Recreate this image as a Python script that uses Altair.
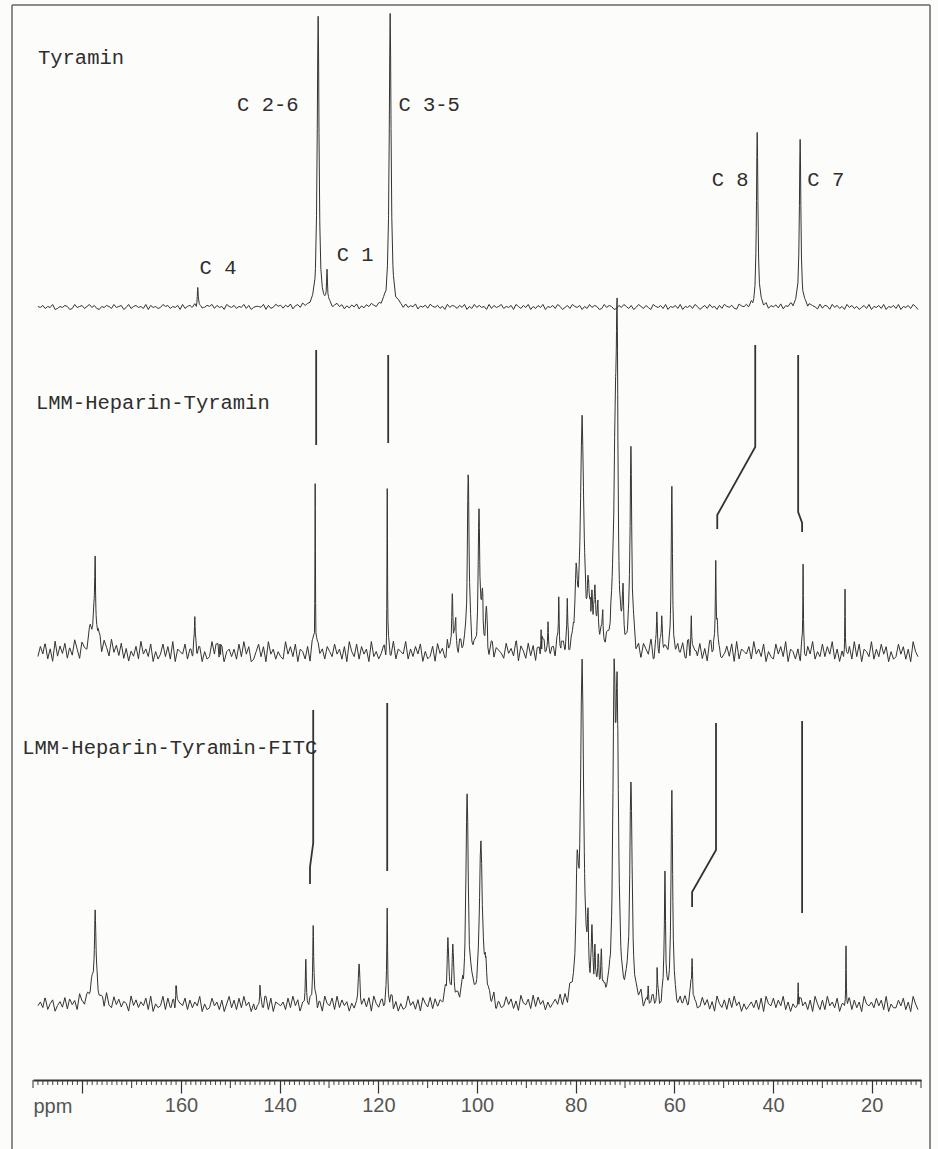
import altair as alt
import pandas as pd

# ---------------- data ----------------
# x axis in ppm, reversed (NMR convention)
PPM_MIN, PPM_MAX = 10, 190
TRACE_START, TRACE_END = 189.0, 10.6
MAJOR_TICKS = [180, 160, 140, 120, 100, 80, 60, 40, 20]
MEDIUM_TICKS = [v for v in range(10, 191, 10) if v not in MAJOR_TICKS]
MINOR_TICKS = [v for v in range(10, 191) if v % 10 != 0]

SERIES = ["Tyramin", "LMM-Heparin-Tyramin", "LMM-Heparin-Tyramin-FITC"]

# peaks: (ppm, height above baseline, half width in ppm)
PEAKS_TYR = [
    (156.6, 22, 0.12), (132.2, 288, 0.22), (130.4, 34, 0.12),
    (117.6, 295, 0.22), (43.2, 174, 0.18), (34.5, 170, 0.18),
]
PEAKS_HEP = [
    (177.6, 32, 1.0), (177.4, 55, 0.1), (157.2, 25, 0.08), (152.1, 15, 0.08),
    (132.8, 173, 0.06), (118.2, 173, 0.06), (105.0, 60, 0.15), (104.3, 25, 0.2),
    (101.8, 185, 0.2), (99.6, 140, 0.2), (98.9, 40, 0.2), (98.1, 35, 0.2),
    (87.0, 28, 0.08), (85.6, 28, 0.08), (83.4, 48, 0.08), (81.7, 38, 0.08),
    (79.9, 70, 0.3), (78.7, 222, 0.35), (77.0, 25, 1.5), (77.5, 40, 0.15),
    (76.7, 35, 0.15), (76.1, 35, 0.15), (75.5, 30, 0.15), (74.5, 22, 0.15),
    (72.0, 200, 0.35), (71.6, 255, 0.2), (70.4, 55, 0.15), (68.8, 205, 0.2),
    (63.5, 38, 0.12), (62.5, 30, 0.12), (60.5, 172, 0.15), (56.6, 38, 0.1),
    (51.6, 80, 0.1), (51.3, 30, 0.15), (33.9, 80, 0.06), (25.4, 70, 0.06),
]
PEAKS_FITC = [
    (177.6, 25, 1.0), (177.4, 72, 0.15), (161.0, 26, 0.1), (144.0, 15, 0.1),
    (134.7, 48, 0.12), (133.2, 80, 0.12), (123.9, 38, 0.2), (118.2, 90, 0.1),
    (105.9, 68, 0.2), (104.9, 62, 0.2), (102.0, 205, 0.3), (99.2, 165, 0.35),
    (98.2, 30, 0.2), (79.7, 100, 0.3), (78.7, 330, 0.4), (77.5, 55, 0.15),
    (76.7, 50, 0.15), (76.1, 50, 0.15), (75.4, 40, 0.15), (74.8, 45, 0.15),
    (72.2, 280, 0.3), (71.6, 280, 0.3), (68.8, 210, 0.3), (65.3, 20, 0.1),
    (63.5, 25, 0.1), (61.9, 135, 0.15), (60.5, 215, 0.2), (56.4, 52, 0.15),
    (34.9, 25, 0.06), (25.2, 60, 0.06),
]

# baseline noise levels (0-9), read/estimated along each trace
NOISE_TYR = (
    "5463547235 4652374563 5746325465 3745624735 6453726453 4756354627 "
    "3564725346 5736452754 6354736245 5472634756 3647256374 5463725647 "
    "3574625364 7253647536 4725364752 6354725463 7546352746 5364725374 "
    "6452736457 3546275364 7253647254 6375246375 4625374652 3746523647 "
    "5362475364 2754637254 6372546375 2463745263 7546327546 3725463725 "
    "4637254736 5247365427 3652746352 7463524637 2546372546 3725463752"
)
NOISE_HEP = (
    "3748261937 4826395174 2839461752 9473826153 7294638152 4837291654 "
    "8263947152 3948271563 6283947125 8371946253 2947381652 7193846275 "
    "3846271953 8274619352 4718392654 9263748152 3718462953 7284619352 "
    "4937182654 2846391752 8371629453 6294738152 3849271653 7264918352 "
    "4839261753 9172846352 3748291653 8261947352 4738192654 7294638153 "
    "2847391652 6183749253 8374926152 4729381653 9263847152 3847261953"
)
NOISE_FITC = (
    "4638257146 3827461952 6374825193 2847365194 7364829153 4928371654 "
    "8273649152 3846271593 7283946152 4739281654 6283947153 3748261954 "
    "8293746152 4627381953 7384926152 3946271853 8273649251 4738261953 "
    "6284739152 3847261954 7293846152 4638271953 8374629152 3746281953 "
    "7283649152 4839271653 6274839152 3847261953 7283946152 4637281954 "
    "8374926153 3846271952 7294638153 4827361954 6384729153 3748261952"
)

# assignment guide lines between spectra: (ppm, level)
GUIDES = [
    [(132.6, 730), (132.6, 635)],
    [(118.0, 725), (118.0, 637)],
    [(43.6, 735), (43.6, 633), (51.3, 565), (51.3, 551)],
    [(34.9, 725), (34.9, 568), (34.1, 557), (34.1, 548)],
    [(133.2, 370), (133.2, 237), (133.85, 213), (133.85, 196)],
    [(118.2, 377), (118.2, 209)],
    [(51.55, 357), (51.55, 230), (56.4, 188), (56.4, 173)],
    [(34.1, 359), (34.1, 167)],
]

# text annotations: (text, ppm, level, align)
LABELS = [
    ("Tyramin", 189.0, 1022, "left"),
    ("C 2-6", 142.4, 975, "center"),
    ("C 3-5", 109.7, 975, "center"),
    ("C 4", 152.5, 812, "center"),
    ("C 1", 124.7, 825, "center"),
    ("C 8", 48.7, 900, "center"),
    ("C 7", 29.3, 900, "center"),
    ("LMM-Heparin-Tyramin", 189.4, 677, "left"),
    ("LMM-Heparin-Tyramin-FITC", 192.2, 332, "left"),
]

# ---------------- layout ----------------
BASELINE = {SERIES[0]: 773, SERIES[1]: 427, SERIES[2]: 75}
NOISE_AMP = {SERIES[0]: 1.0, SERIES[1]: 2.5, SERIES[2]: 1.9}
W, H = 888, 1080
INK = "#333333"
PAPER = "#fcfcfa"


def build(series, peaks, noise_text):
    digits = [int(c) for c in noise_text if c.isdigit()]
    n = len(digits)
    step = (TRACE_START - TRACE_END) / (n - 1)
    amp = NOISE_AMP[series]
    noise = [(d - 4.5) * amp for d in digits]
    pts = [(TRACE_START - i * step, noise[i]) for i in range(n)]
    for p, h, g in peaks:
        for k in (-10, -5, -2.5, -1.5, -0.8, -0.4, 0, 0.4, 0.8, 1.5, 2.5, 5, 10):
            x = p + k * g
            if x > TRACE_START or x < TRACE_END:
                continue
            i = min(n - 1, max(0, round((TRACE_START - x) / step)))
            pts.append((x, noise[i]))
    rows = []
    base = BASELINE[series]
    for x, nz in pts:
        s = sum(h / (1 + ((x - p) / g) ** 2) for p, h, g in peaks)
        rows.append({"series": series, "ppm": x, "y": base + nz + s})
    return rows


rows = []
for s, pk, nz in zip(SERIES, [PEAKS_TYR, PEAKS_HEP, PEAKS_FITC],
                     [NOISE_TYR, NOISE_HEP, NOISE_FITC]):
    rows += build(s, pk, nz)
spec_df = pd.DataFrame(rows)

guide_rows = []
for gi, g in enumerate(GUIDES):
    for j, (x, y) in enumerate(g):
        guide_rows.append({"gid": gi, "idx": j, "ppm": x, "y": y})
guide_df = pd.DataFrame(guide_rows)

label_df = pd.DataFrame(LABELS, columns=["text", "ppm", "y", "align"])

XS = alt.Scale(domain=[PPM_MIN, PPM_MAX], reverse=True, nice=False, zero=False)
YS = alt.Scale(domain=[0, H], nice=False, zero=False)

x_axis = alt.Axis(
    values=MAJOR_TICKS,
    labelExpr="datum.value == 180 ? '' : datum.label",
    tickSize=13, tickWidth=1.2, tickColor=INK,
    domainColor=INK, domainWidth=2,
    labelFont="Liberation Sans", labelFontSize=20, labelColor="#555555",
    labelPadding=2, labelFlush=False, labelOverlap=False,
    grid=False,
    title="ppm", titleX=0, titleY=26, titleAlign="left", titleAnchor="start",
    titleBaseline="middle", titleFont="Liberation Sans", titleFontSize=20,
    titleFontWeight="normal", titleColor="#555555",
)


def X(field):
    return alt.X(field, scale=XS, axis=x_axis)


def Y(field):
    return alt.Y(field, scale=YS, axis=None)


spectra = alt.Chart(spec_df).mark_line(color=INK, strokeWidth=1.0).encode(
    x=X("ppm:Q"), y=Y("y:Q"), detail="series:N",
)

guides = alt.Chart(guide_df).mark_line(color=INK, strokeWidth=1.8).encode(
    x=X("ppm:Q"), y=Y("y:Q"), detail="gid:N", order="idx:Q",
)

minor = alt.Chart(pd.DataFrame({"ppm": MINOR_TICKS})).mark_rule(
    color=INK, strokeWidth=0.9).encode(
    x=X("ppm:Q"), y=alt.value(H), y2=alt.value(H + 5))
medium = alt.Chart(pd.DataFrame({"ppm": MEDIUM_TICKS})).mark_rule(
    color=INK, strokeWidth=1.0).encode(
    x=X("ppm:Q"), y=alt.value(H), y2=alt.value(H + 8))

texts = []
for al in ["left", "center"]:
    sub = label_df[label_df["align"] == al]
    texts.append(alt.Chart(sub).mark_text(
        font="Liberation Mono", fontSize=20.5, color="#2e2e2e",
        align=al, baseline="middle").encode(
        x=X("ppm:Q"), y=Y("y:Q"), text="text:N"))

frame_color = "#666666"
frame_left = alt.Chart(pd.DataFrame({"a": [0]})).mark_rule(
    color=frame_color, strokeWidth=1.5).encode(
    x=alt.value(-21), y=alt.value(5), y2=alt.value(H + 69))
frame_right = alt.Chart(pd.DataFrame({"a": [0]})).mark_rule(
    color=frame_color, strokeWidth=1.5).encode(
    x=alt.value(897), y=alt.value(5), y2=alt.value(H + 69))
frame_top = alt.Chart(pd.DataFrame({"a": [0]})).mark_rule(
    color=frame_color, strokeWidth=1.5).encode(
    x=alt.value(-21), x2=alt.value(897), y=alt.value(5))

chart = alt.layer(
    spectra, frame_left, frame_right, frame_top, minor, medium, guides, *texts
).properties(
    width=W, height=H,
    padding={"left": 33, "right": 17, "top": 0, "bottom": 69},
    autosize=alt.AutoSizeParams(type="none"),
    view=alt.ViewBackground(stroke="transparent", strokeOpacity=0, fill=PAPER),
).configure_view(stroke="transparent", strokeOpacity=0, fill=PAPER
).configure_axis(grid=False).configure(background=PAPER)

chart.save("out.html", embed_options={"renderer": "svg", "actions": False})
